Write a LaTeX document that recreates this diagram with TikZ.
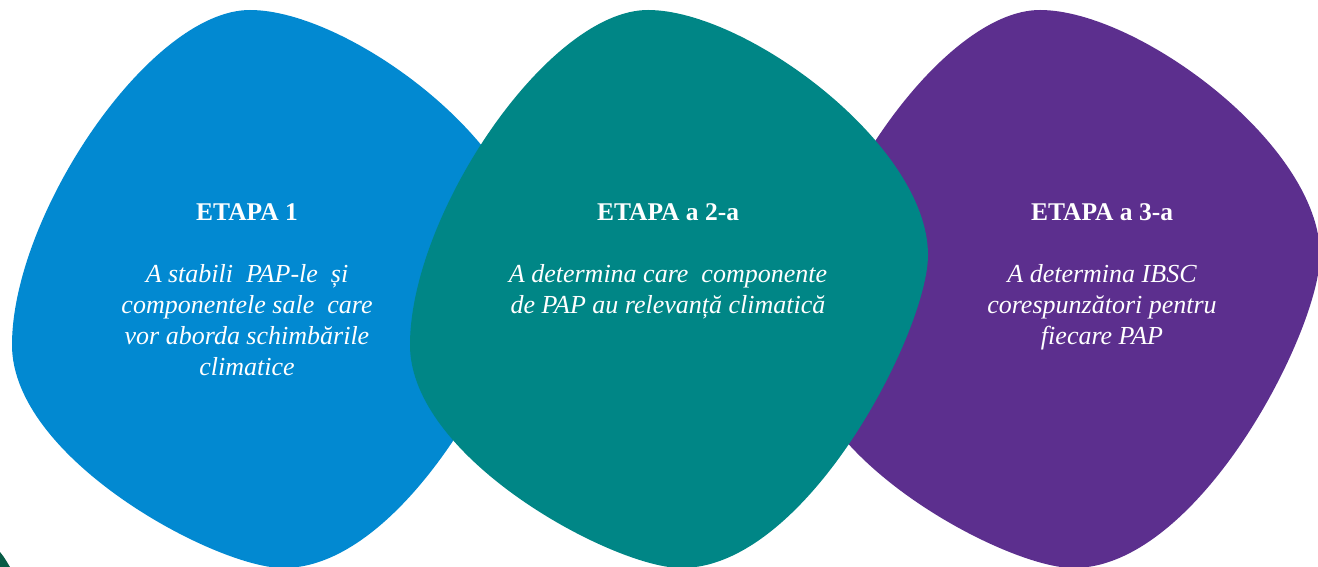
\documentclass[tikz,border=0pt]{standalone}
\usepackage{fontspec}
\setmainfont{Liberation Serif}
\usetikzlibrary{calc}

\definecolor{etapablue}{RGB}{2,137,209}
\definecolor{etapateal}{RGB}{0,134,134}
\definecolor{etapapurple}{RGB}{92,47,142}
\definecolor{etapagreen}{RGB}{8,92,70}

\tikzset{
  titlu/.style={anchor=base, text=white, inner sep=0pt, font=\fontsize{14.5}{17.6}\selectfont\bfseries},
  corp/.style={anchor=north, text=white, inner sep=0pt, align=center, font=\fontsize{14.8}{17.6}\selectfont\itshape}
}

\begin{document}
\begin{tikzpicture}[x=0.02cm,y=-0.02cm]

\useasboundingbox (0,0) rectangle (1318,567);

\foreach \dx/\col in {0/etapablue,790/etapapurple,398/etapateal}{
  \fill[\col, shift={(\dx,0)}] (250,10)
    .. controls (348,10) and (530,145) .. (530,255)
    .. controls (530,330) and (410,566) .. (285,568)
    .. controls (220,570) and (12,460) .. (12,345)
    .. controls (12,215) and (150,10) .. (250,10) -- cycle;
}

\fill[etapagreen] (0,552) .. controls (4,557) .. (10,567) -- (0,567) -- cycle;

\node[titlu] (titlu1) at (247,221) {ETAPA 1};
\node[titlu] (titlu2) at (668,221) {ETAPA a 2-a};
\node[titlu] (titlu3) at (1102,221) {ETAPA a 3-a};

\node[corp] (corp1) at (247,264) {A stabili\ \ PAP-le\ \ și\\componentele sale\ \ care\\vor aborda schimbările\\climatice};
\node[corp] (corp2) at (668,264) {A determina care\ \ componente\\de PAP au relevanță climatică};
\node[corp] (corp3) at (1102,264) {A determina IBSC\\corespunzători pentru\\fiecare PAP};

\end{tikzpicture}
\end{document}
